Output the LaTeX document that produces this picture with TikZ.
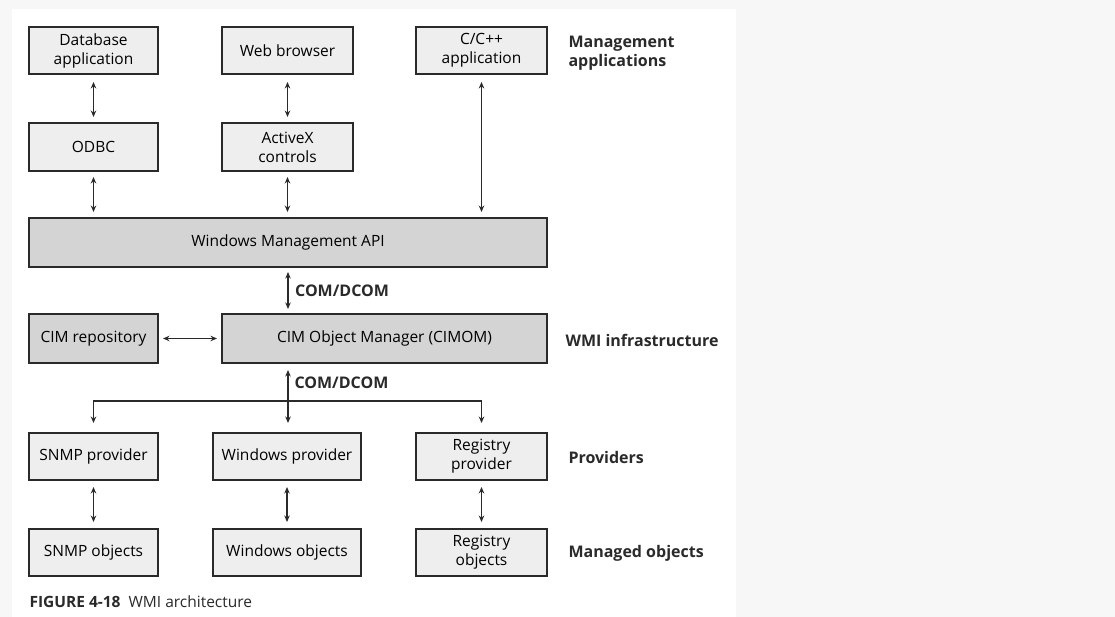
\documentclass[tikz,border=0pt]{standalone}
\usepackage{fontspec}
\setmainfont{Open Sans}
\usepackage{tikz}
\usetikzlibrary{calc,arrows.meta,positioning}
\definecolor{inkx}{HTML}{2A2A2A}
\definecolor{lightbox}{HTML}{EEEEEE}
\definecolor{darkbox}{HTML}{D4D4D4}
\definecolor{pagebg}{HTML}{F7F7F7}
\tikzset{
  ar/.style={{Stealth[length=6.5pt,width=5.5pt]}-{Stealth[length=6.5pt,width=5.5pt]},line width=1.6pt,inkx},
  ardown/.style={-{Stealth[length=6.5pt,width=5.5pt]},line width=1.6pt,inkx},
  box/.style={draw=inkx,line width=2pt,fill=lightbox,align=center,inner sep=0pt,
    minimum height=47pt,font=\fontsize{15.5}{19}\selectfont},
  bigbox/.style={box,fill=darkbox,minimum height=49pt},
  tag/.style={anchor=west,align=left,font=\fontsize{16}{19}\selectfont\bfseries,inkx},
  comlbl/.style={font=\fontsize{16}{19}\selectfont\bfseries,inkx}
}
\begin{document}
\begin{tikzpicture}[x=1pt,y=-1pt]
\useasboundingbox (0,0) rectangle (1115,617);
\fill[pagebg] (0,0) rectangle (1115,617);
\fill[white] (12,9) rectangle (736,617);
% management applications
\node[box,minimum width=129pt] (db) at (93.5,50.5) {Database\\application};
\node[box,minimum width=131pt] (web) at (287.5,50.5) {Web browser};
\node[box,minimum width=131pt] (cpp) at (481.5,50.5) {C/C++\\application};
\node[box,minimum width=129pt,minimum height=48pt] (odbc) at (93.5,147) {ODBC};
\node[box,minimum width=131pt,minimum height=48pt] (activex) at (287.5,147) {ActiveX\\controls};
\node[bigbox,minimum width=518pt] (wmapi) at (288,242.5) {Windows Management API};
% wmi infrastructure
\node[bigbox,minimum width=129pt] (cimrep) at (93.5,338.5) {CIM repository};
\node[bigbox,minimum width=325pt] (cimom) at (384.5,338.5) {CIM Object Manager (CIMOM)};
% providers and objects
\node[box,minimum width=129pt] (snmp) at (93.5,456.5) {SNMP provider};
\node[box,minimum width=148pt] (winprov) at (287,456.5) {Windows provider};
\node[box,minimum width=131pt] (regprov) at (481.5,456.5) {Registry\\provider};
\node[box,minimum width=129pt] (snmpobj) at (93.5,552.5) {SNMP objects};
\node[box,minimum width=148pt] (winobj) at (287,552.5) {Windows objects};
\node[box,minimum width=131pt] (regobj) at (481.5,552.5) {Registry\\objects};
% layer labels
\node[tag] (lmgmt) at (565,53) {Management\\applications};
\node[tag] (linfra) at (562,340) {WMI infrastructure};
\node[tag] (lprov) at (565,457) {Providers};
\node[tag] (lobj) at (565,553) {Managed objects};
% connectors
\draw[ar,shorten <=7pt,shorten >=5pt] (db) -- (odbc);
\draw[ar,shorten <=7pt,shorten >=5pt] (web) -- (activex);
\draw[ar,shorten <=7pt,shorten >=5pt] (cpp.south) -- (cpp.south |- wmapi.north);
\draw[ar,shorten <=5pt,shorten >=5pt] (odbc) -- (odbc |- wmapi.north);
\draw[ar,shorten <=5pt,shorten >=5pt] (activex) -- (activex |- wmapi.north);
\draw[ar,shorten <=4pt,shorten >=4pt] (wmapi.south) -- (wmapi.south |- cimom.north)
  node[midway,right=3pt,comlbl] (com1) {COM/DCOM};
\draw[ar,shorten <=4pt,shorten >=4pt] (cimrep) -- (cimom);
\coordinate (bus) at (288,401);
\draw[ar,shorten <=6pt,shorten >=9pt] (cimom.south -| bus) -- (bus |- winprov.north);
\node[anchor=west,comlbl] (com2) at (291,383) {COM/DCOM};
\draw[ardown,shorten >=9pt] (bus) -| (snmp.north);
\draw[ardown,shorten >=9pt] (bus) -| (regprov.north);
\draw[ar,shorten <=6pt,shorten >=6pt] (snmp) -- (snmpobj);
\draw[ar,shorten <=6pt,shorten >=6pt] (winprov) -- (winobj);
\draw[ar,shorten <=6pt,shorten >=6pt] (regprov) -- (regobj);
% caption
\node[anchor=west,font=\fontsize{15.5}{18}\selectfont,inkx] (cap) at (26,602) {\textbf{FIGURE 4-18}\ \ WMI architecture};
\end{tikzpicture}
\end{document}
